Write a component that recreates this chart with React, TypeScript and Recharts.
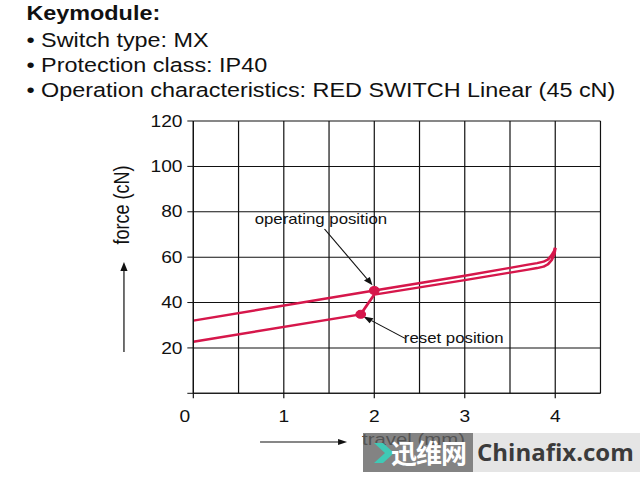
import React from 'react';
import { LineChart, Line, XAxis, YAxis, CartesianGrid, ReferenceDot, ReferenceLine } from 'recharts';

// ---- data ----
const pressTravel = [0, 2, 3, 3.5, 3.7, 3.8, 3.87, 3.92, 3.96, 3.99, 4.0];
const pressForce = [32, 45.3, 51.8, 55.3, 56.7, 57.4, 58.0, 59.0, 60.8, 62.8, 64.2];
const releaseTravel = [0, 1.85, 1.93, 2.0, 3.0, 3.5, 3.7, 3.8, 3.87, 3.92, 3.96, 3.99, 4.0];
const releaseForce = [22.7, 34.8, 39.5, 43.5, 49.9, 53.2, 54.5, 55.2, 55.8, 56.9, 58.7, 61.4, 64];

const markerTravel = [2.0, 1.85];
const markerForce = [45.3, 34.8];

const annotationLabels = ['operating position', 'reset position'];
const annotationFromTravel = [1.45, 2.34];
const annotationFromForce = [72.4, 24.2];
const annotationToTravel = [1.98, 1.88];
const annotationToForce = [47.6, 33.9];

const xTicks = [0, 1, 2, 3, 4];
const xGrid = [0, 0.5, 1, 1.5, 2, 2.5, 3, 3.5, 4, 4.5];
const yTicks = [0, 20, 40, 60, 80, 100, 120];

const headerLines = [
  '• Switch type: MX',
  '• Protection class: IP40',
  '• Operation characteristics: RED SWITCH Linear (45 cN)',
];

const pressData = pressTravel.map((t, i) => ({ travel: t, force: pressForce[i] }));
const releaseData = releaseTravel.map((t, i) => ({ travel: t, force: releaseForce[i] }));

const RED = '#d6174b';
const INK = '#111';
const FONT = '"Liberation Sans", Arial, sans-serif';
const SX = 1.2;

const XTick = (props: any) => {
  const { x, y, payload } = props;
  const dx = payload.value === 0 ? -7 : 0;
  return (
    <text x={x + dx} y={y} dy="0.72em" textAnchor="middle" fontSize={16} fill={INK} fontFamily={FONT}>
      {payload.value}
    </text>
  );
};

const makeArrow = (label: string, mode: 'above' | 'right') => (props: any) => {
  const { x1, y1, x2, y2 } = props;
  const ang = Math.atan2(y2 - y1, x2 - x1);
  const L = 8;
  const Wd = 3;
  const c = Math.cos(ang);
  const s = Math.sin(ang);
  const bx = x2 - L * c;
  const by = y2 - L * s;
  const pts = `${x2},${y2} ${bx - Wd * s},${by + Wd * c} ${bx + Wd * s},${by - Wd * c}`;
  return (
    <g>
      <line x1={x1} y1={y1} x2={bx} y2={by} stroke={INK} strokeWidth={1} />
      <polygon points={pts} fill={INK} />
      {mode === 'above' ? (
        <text x={x1 - 3} y={y1 - 5} textAnchor="middle" fontSize={14} fill={INK} fontFamily={FONT}>
          {label}
        </text>
      ) : (
        <text x={x1 - 1} y={y1 + 5} textAnchor="start" fontSize={14} fill={INK} fontFamily={FONT}>
          {label}
        </text>
      )}
    </g>
  );
};

export default function App() {
  return (
    <div
      style={{
        position: 'absolute',
        left: 0,
        top: 0,
        width: 640,
        height: 477,
        overflow: 'hidden',
        background: '#fff',
        fontFamily: FONT,
      }}
    >
      <div
        style={{
          position: 'absolute',
          left: 0,
          top: 0,
          width: 640 / SX,
          height: 477,
          transform: `scaleX(${SX})`,
          transformOrigin: '0 0',
        }}
      >
        <LineChart
          width={533}
          height={477}
          margin={{ top: 121, right: 32.6, bottom: 53.7, left: 121.1 }}
          style={{ position: 'absolute', left: 0, top: 0 }}
        >
          <CartesianGrid
            stroke={INK}
            strokeWidth={1}
            verticalValues={xGrid}
            horizontalValues={yTicks}
          />
          <XAxis
            type="number"
            dataKey="travel"
            domain={[0, 4.5]}
            ticks={xTicks}
            height={30}
            tickSize={5}
            tickMargin={12}
            axisLine={{ stroke: INK }}
            tickLine={{ stroke: INK }}
            tick={<XTick />}
            allowDataOverflow
          />
          <YAxis
            type="number"
            dataKey="force"
            domain={[0, 120]}
            ticks={yTicks}
            width={40}
            tickSize={5}
            tickMargin={4}
            axisLine={{ stroke: INK }}
            tickLine={{ stroke: INK }}
            tick={{ fontSize: 16, fill: INK, fontFamily: FONT }}
            tickFormatter={(v: number) => (v === 0 ? '' : String(v))}
            allowDataOverflow
          />
          <Line
            data={releaseData}
            dataKey="force"
            type="linear"
            stroke={RED}
            strokeWidth={2.4}
            strokeLinejoin="round"
            dot={false}
            activeDot={false}
            isAnimationActive={false}
          />
          <Line
            data={pressData}
            dataKey="force"
            type="linear"
            stroke={RED}
            strokeWidth={2.4}
            strokeLinejoin="round"
            dot={false}
            activeDot={false}
            isAnimationActive={false}
          />
          {markerTravel.map((t, i) => (
            <ReferenceDot key={`m${i}`} x={t} y={markerForce[i]} r={4} fill={RED} stroke={RED} strokeWidth={1} />
          ))}
          {annotationLabels.map((lab, i) => (
            <ReferenceLine
              key={`a${i}`}
              segment={[
                { x: annotationFromTravel[i], y: annotationFromForce[i] },
                { x: annotationToTravel[i], y: annotationToForce[i] },
              ]}
              ifOverflow="visible"
              shape={makeArrow(lab, i === 0 ? 'above' : 'right')}
            />
          ))}
        </LineChart>

        <svg
          width={533}
          height={477}
          style={{ position: 'absolute', left: 0, top: 0, pointerEvents: 'none' }}
        >
          <text x={22} y={20} fontSize={19.5} fontWeight="bold" fill={INK} fontFamily={FONT}>
            Keymodule:
          </text>
          {headerLines.map((t, i) => (
            <text key={i} x={22} y={47 + i * 25} fontSize={19.5} fill={INK} fontFamily={FONT}>
              {t}
            </text>
          ))}
          {/* y axis label and arrow */}
          <text
            x={101.5}
            y={205}
            fontSize={18}
            fill={INK}
            fontFamily={FONT}
            textAnchor="middle"
            dominantBaseline="central"
            transform="rotate(-90 101.5 205)"
          >
            force (cN)
          </text>
          <line x1={103.3} y1={352} x2={103.3} y2={270} stroke={INK} strokeWidth={1} />
          <polygon points="103.3,262 100.3,271 106.3,271" fill={INK} />
          {/* x axis label and arrow */}
          <line x1={216.7} y1={442} x2={282} y2={442} stroke={INK} strokeWidth={1} />
          <polygon points="289.2,442 281.7,439 281.7,445" fill={INK} />
          <text x={301.7} y={445} fontSize={17} fill={INK} fontFamily={FONT}>
            travel (mm)
          </text>
        </svg>
      </div>

      {/* watermark overlay */}
      <div
        style={{
          position: 'absolute',
          left: 363,
          top: 433,
          width: 110,
          height: 39,
          background: 'rgba(100,100,100,0.8)',
        }}
      >
        <svg width={30} height={39} style={{ position: 'absolute', left: 7, top: 0 }}>
          <polygon points="4,10 13,10 24,20 13,30 4,30 15,20" fill="#3fc9b6" />
        </svg>
        <span
          style={{
            position: 'absolute',
            left: 28,
            top: 1,
            color: '#fff',
            fontSize: 26,
            fontWeight: 'bold',
            fontFamily: '"Noto Sans CJK SC", sans-serif',
            lineHeight: '36px',
            letterSpacing: -1,
          }}
        >
          迅维网
        </span>
      </div>
      <div
        style={{
          position: 'absolute',
          left: 473,
          top: 433,
          width: 167,
          height: 39,
          background: 'rgba(228,228,228,0.95)',
        }}
      >
        <span
          style={{
            position: 'absolute',
            left: 4,
            top: 2,
            color: '#3b3b3b',
            fontSize: 24,
            fontWeight: 'bold',
            fontFamily: '"Open Sans", sans-serif',
            lineHeight: '34px',
          }}
        >
          Chinafix.com
        </span>
      </div>
    </div>
  );
}
